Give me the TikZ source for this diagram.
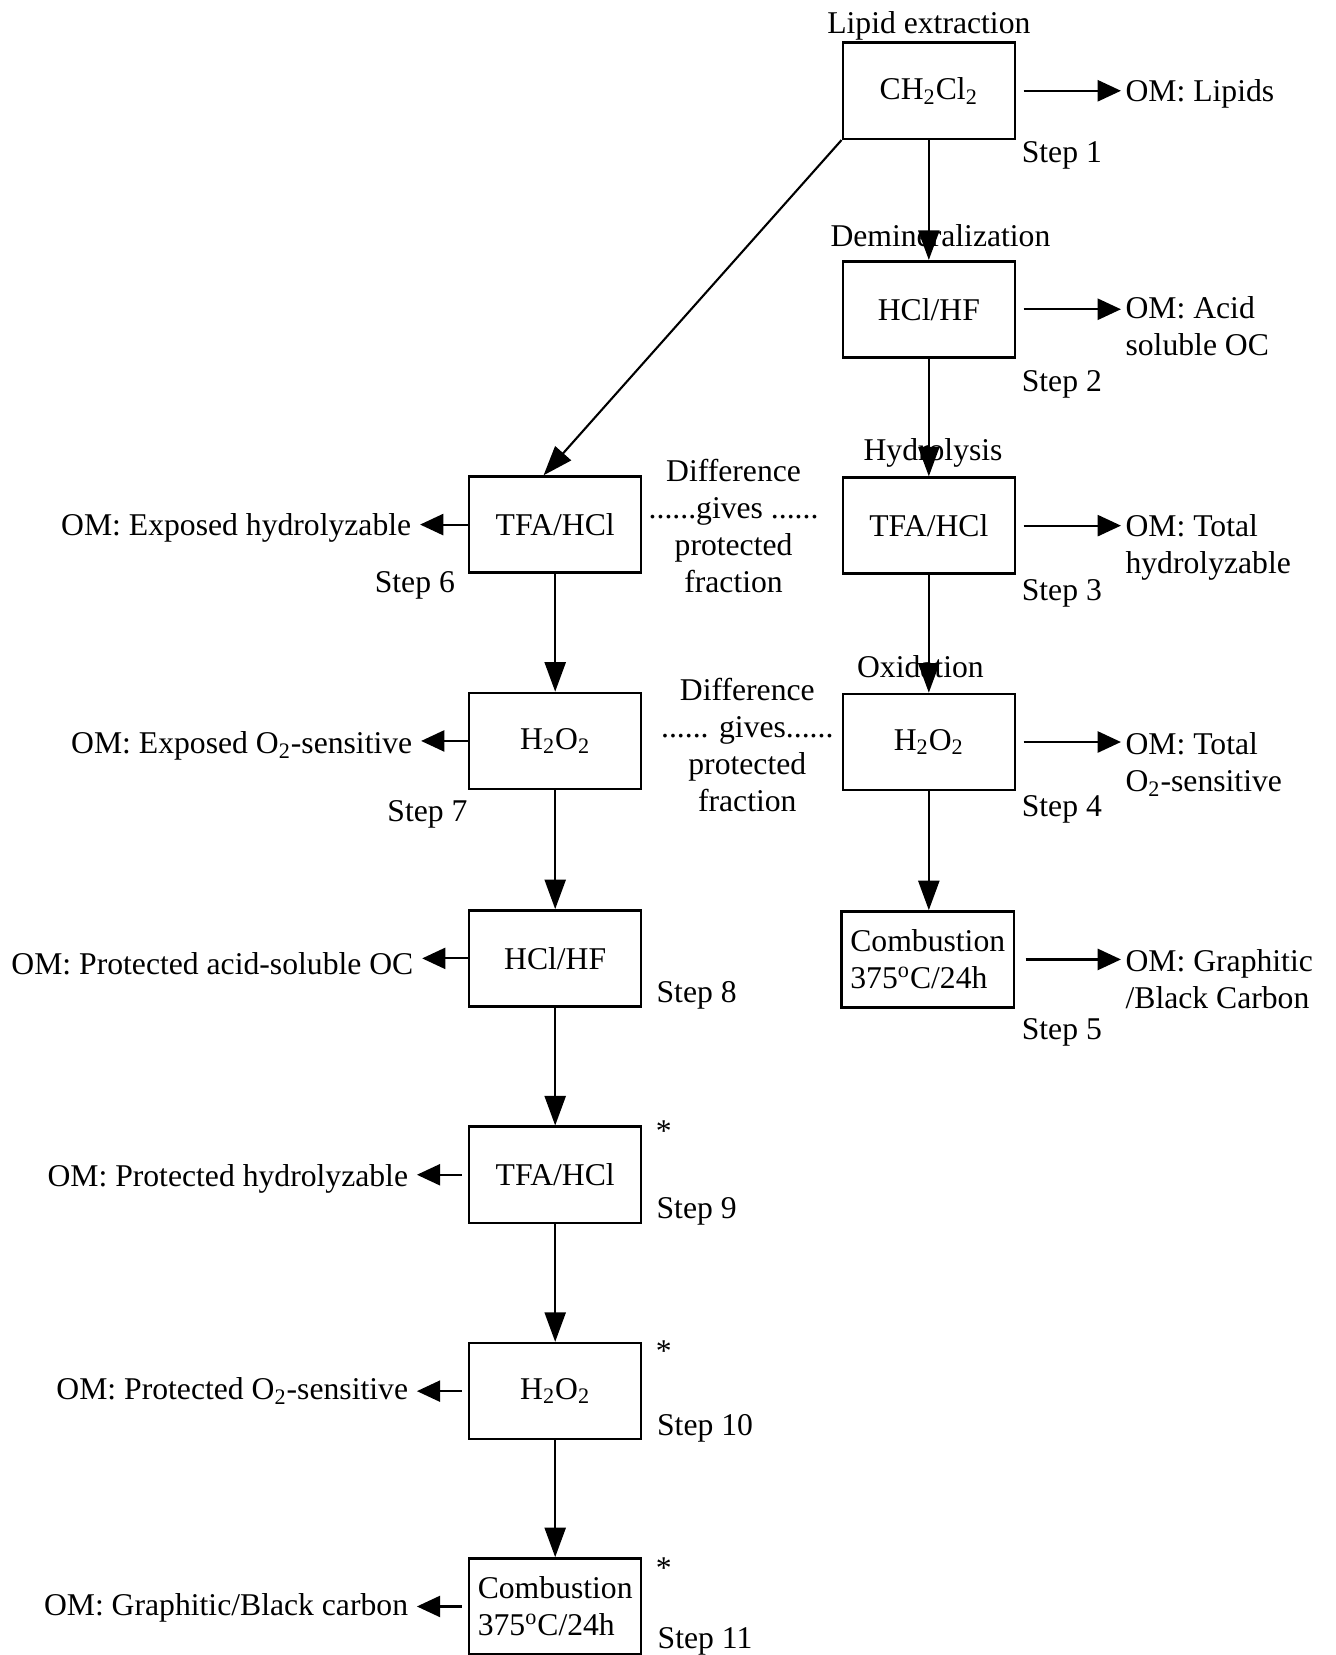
\documentclass[tikz,border=0pt]{standalone}
\usepackage{fontspec}
\setmainfont{Liberation Serif}
\usetikzlibrary{arrows.meta,calc}
\begin{document}
\begin{tikzpicture}[x=0.5pt,y=-0.5pt,
  font=\fontsize{15}{17.5}\selectfont,
  stepbox/.style={draw,line width=1.2pt,minimum width=81.5pt,minimum height=45.5pt,inner sep=0pt,align=center},
  lbl/.style={inner sep=0pt,yshift=-1.5pt},
  omr/.style={inner xsep=2pt,inner ysep=0pt,align=left,anchor=north west},
  oml/.style={inner xsep=4pt,inner ysep=0pt,anchor=east,yshift=-1.5pt},
  arr/.style={line width=1pt,-{Triangle[length=11pt,width=10pt]}},
  varr/.style={line width=1pt,-{Triangle[length=14pt,width=10pt]}},
]
\path[use as bounding box] (0,0) rectangle (1265,1568);

% right column boxes
\node[stepbox] (b1) at (880,86) {CH\textsubscript{2}Cl\textsubscript{2}};
\node[stepbox] (b2) at (880,293) {HCl/HF};
\node[stepbox] (b3) at (880,498) {TFA/HCl};
\node[stepbox] (b4) at (880,703) {H\textsubscript{2}O\textsubscript{2}};
\node[stepbox,align=left] (b5) at (879,909) {Combustion\\375\textsuperscript{o}C/24h};

% left column boxes
\node[stepbox] (b6) at (526,497) {TFA/HCl};
\node[stepbox] (b7) at (526,702) {H\textsubscript{2}O\textsubscript{2}};
\node[stepbox] (b8) at (526,908) {HCl/HF};
\node[stepbox] (b9) at (526,1113) {TFA/HCl};
\node[stepbox] (b10) at (526,1318) {H\textsubscript{2}O\textsubscript{2}};
\node[stepbox,align=left] (b11) at (526,1522) {Combustion\\375\textsuperscript{o}C/24h};

% headers
\node[lbl] (h1) at (880,22) {Lipid extraction};
\node[lbl] (h2) at (891,220) {Demineralization};
\node[lbl] (h3) at (884,426) {Hydrolysis};
\node[lbl] (h4) at (872,629) {Oxidation};

% step labels
\node[lbl] (s1) at (1006,144) {Step 1};
\node[lbl] (s2) at (1006,361) {Step 2};
\node[lbl] (s3) at (1006,559) {Step 3};
\node[lbl] (s4) at (1006,764) {Step 4};
\node[lbl] (s5) at (1006,975) {Step 5};
\node[lbl] (s6) at (393,552) {Step 6};
\node[lbl] (s7) at (405,769) {Step 7};
\node[lbl] (s8) at (660,940) {Step 8};
\node[lbl] (s9) at (660,1145) {Step 9};
\node[lbl] (s10) at (668,1350) {Step 10};
\node[lbl] (s11) at (668,1552) {Step 11};

% stars
\node[lbl] (st9) at (629,1069) {*};
\node[lbl] (st10) at (629,1277) {*};
\node[lbl] (st11) at (629,1483) {*};

% right outputs
\node[omr,anchor=west,yshift=-1.5pt] (om1) at (1062,86) {OM: Lipids};
\node[omr] (om2) at (1062,281) {OM: Acid\\soluble OC};
\node[omr] (om3) at (1062,487) {OM: Total\\hydrolyzable};
\node[omr] (om4) at (1062,694) {OM: Total\\O\textsubscript{2}-sensitive};
\node[omr] (om5) at (1062,899) {OM: Graphitic\\/Black Carbon};

% left outputs
\node[oml] (e6) at (398,497) {OM: Exposed hydrolyzable};
\node[oml] (e7) at (399,704) {OM: Exposed O\textsubscript{2}-sensitive};
\node[oml] (e8) at (400,910) {OM: Protected acid-soluble OC};
\node[oml] (e9) at (395,1114) {OM: Protected hydrolyzable};
\node[oml] (e10) at (395,1315) {OM: Protected O\textsubscript{2}-sensitive};
\node[oml] (e11) at (395,1520) {OM: Graphitic/Black carbon};

% difference texts
\node[lbl,align=center,yshift=1.5pt] (d1) at (695,498) {Difference\\......gives ......\\protected\\fraction};
\node[lbl,align=center,yshift=1.5pt] (d2) at (708,706) {Difference\\...... gives......\\protected\\fraction};

% vertical connectors
\draw[varr] (b1.south) -- (b2.north);
\draw[varr] (b2.south) -- (b3.north);
\draw[varr] (b3.south) -- (b4.north);
\draw[varr] (b4.south) -- (b4.south |- b5.north);
\draw[varr] (b6.south) -- (b7.north);
\draw[varr] (b7.south) -- (b8.north);
\draw[varr] (b8.south) -- (b9.north);
\draw[varr] (b9.south) -- (b10.north);
\draw[varr] (b10.south) -- (b11.north);
\draw[varr] (b1.south west) -- ($(b6.north)+(-11,0)$);

% right arrows
\draw[arr] ([xshift=3.5pt]b1.east) -- (b1.east -| om1.west);
\draw[arr] ([xshift=3.5pt]b2.east) -- (b2.east -| om2.west);
\draw[arr] ([xshift=3.5pt]b3.east) -- (b3.east -| om3.west);
\draw[arr] ([xshift=3.5pt]b4.east) -- (b4.east -| om4.west);
\draw[arr] ([xshift=5pt]b5.east) -- (b5.east -| om5.west);

% left arrows
\draw[arr] (b6.west) -- (b6.west -| e6.east);
\draw[arr] (b7.west) -- (b7.west -| e7.east);
\draw[arr] (b8.west) -- (b8.west -| e8.east);
\draw[arr] ([xshift=-3pt]b9.west) -- (b9.west -| e9.east);
\draw[arr] ([xshift=-3pt]b10.west) -- (b10.west -| e10.east);
\draw[arr] ([xshift=-3pt]b11.west) -- (b11.west -| e11.east);
\end{tikzpicture}
\end{document}
